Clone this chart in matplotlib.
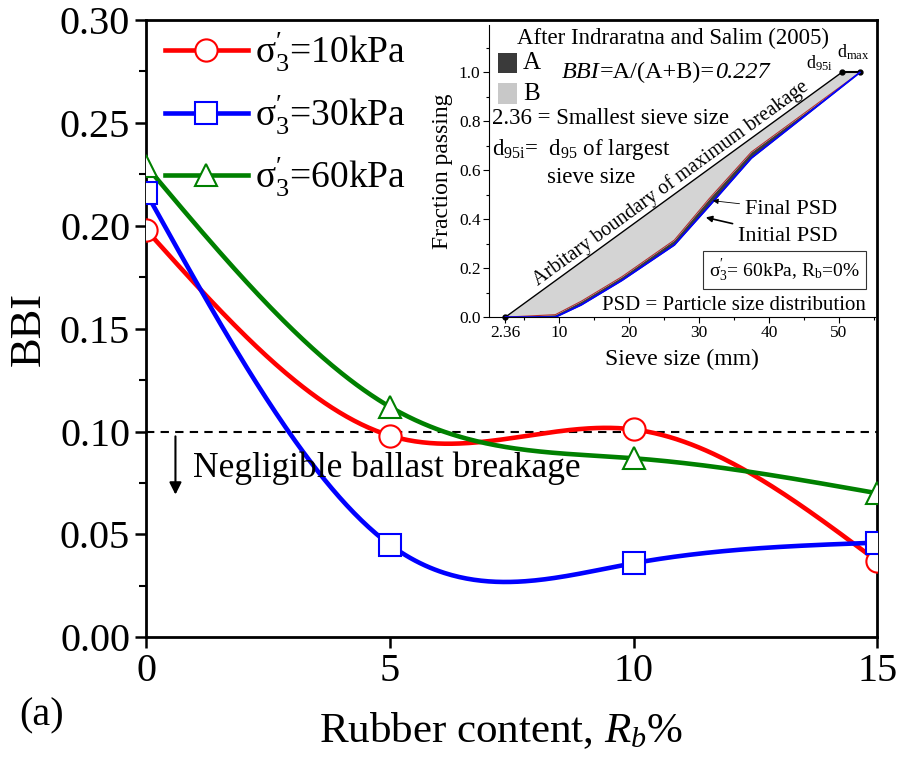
import numpy as np
import matplotlib
matplotlib.use("Agg")
import matplotlib.pyplot as plt
from matplotlib.patches import Rectangle

plt.rcParams["font.family"] = ["Liberation Serif", "DejaVu Serif"]
plt.rcParams["mathtext.fontset"] = "custom"
plt.rcParams["mathtext.rm"] = "Liberation Serif"
plt.rcParams["mathtext.it"] = "Liberation Serif:italic"
plt.rcParams["mathtext.bf"] = "Liberation Serif:bold"

# BBI vs rubber content
rubber = [0, 5, 10, 15]
bbi_10 = [0.198, 0.098, 0.101, 0.037]
bbi_30 = [0.216, 0.045, 0.036, 0.046]
bbi_60 = [0.229, 0.112, 0.087, 0.070]
labels = [r"$\mathrm{\sigma^{\prime}_{3}}$=10kPa",
          r"$\mathrm{\sigma^{\prime}_{3}}$=30kPa",
          r"$\mathrm{\sigma^{\prime}_{3}}$=60kPa"]

# PSD curves for the inset (sieve size mm, fraction passing)
sieve = [2.36, 9.5, 13.2, 19.0, 26.5, 31.5, 37.5, 53.0]
psd_initial = [0.0, 0.0, 0.05, 0.15, 0.295, 0.455, 0.65, 1.0]
psd_final = [0.0, 0.01, 0.065, 0.165, 0.315, 0.485, 0.675, 1.0]
boundary_x = [2.36, 50.4, 53.0]
boundary_y = [0.0, 1.0, 1.0]
bbi_value = 0.227


def natural_spline(x, y, n=300):
    x = np.asarray(x, float)
    y = np.asarray(y, float)
    k = len(x)
    h = np.diff(x)
    A = np.zeros((k, k))
    r = np.zeros(k)
    A[0, 0] = A[-1, -1] = 1
    for i in range(1, k - 1):
        A[i, i - 1] = h[i - 1]
        A[i, i] = 2 * (h[i - 1] + h[i])
        A[i, i + 1] = h[i]
        r[i] = 6 * ((y[i + 1] - y[i]) / h[i] - (y[i] - y[i - 1]) / h[i - 1])
    m = np.linalg.solve(A, r)
    xs = np.linspace(x[0], x[-1], n)
    idx = np.clip(np.searchsorted(x, xs) - 1, 0, k - 2)
    t0 = x[idx]
    t1 = x[idx + 1]
    hh = h[idx]
    ys = (m[idx] * (t1 - xs) ** 3 / (6 * hh) + m[idx + 1] * (xs - t0) ** 3 / (6 * hh)
          + (y[idx] / hh - m[idx] * hh / 6) * (t1 - xs)
          + (y[idx + 1] / hh - m[idx + 1] * hh / 6) * (xs - t0))
    return xs, ys


fig = plt.figure(figsize=(8.97, 7.66), dpi=100)
ax = fig.add_axes([0.163, 0.168, 0.815, 0.806])

styles = [("#ff0000", "o"), ("#0000ff", "s"), ("#008000", "^")]
for vals, (c, m), lab in zip([bbi_10, bbi_30, bbi_60], styles, labels):
    xs, ys = natural_spline(rubber, vals)
    ax.plot(xs, ys, color=c, lw=3.3, zorder=2)
    ax.plot(rubber, vals, ls="none", marker=m, ms=16, mfc="white", mec=c, mew=1.5, zorder=3)
    ax.plot([], [], color=c, lw=3.3, marker=m, ms=16, mfc="white", mec=c, mew=1.5, label=lab)

ax.axhline(0.10, color="black", ls=(0, (4, 3)), lw=1.5, zorder=1)
ax.annotate("", xy=(0.6, 0.068), xytext=(0.6, 0.099),
            arrowprops=dict(arrowstyle="-|>", color="black", lw=1.5, mutation_scale=18))
ax.text(0.96, 0.082, "Negligible ballast breakage", fontsize=25.5, va="center", ha="left")

ax.set_xlim(0, 15)
ax.set_ylim(0, 0.30)
ax.set_xticks([0, 5, 10, 15])
ax.set_yticks(np.arange(0, 0.301, 0.05))
ax.set_yticks(np.arange(0.025, 0.3, 0.05), minor=True)
ax.yaxis.set_major_formatter(matplotlib.ticker.FormatStrFormatter("%.2f"))
ax.tick_params(labelsize=29, width=1.8, length=8, direction="out")
ax.tick_params(which="minor", width=1.5, length=5)
for s in ax.spines.values():
    s.set_linewidth(2)
ax.set_xlabel(r"Rubber content, $R_b\%$", fontsize=31, labelpad=18)
ax.xaxis.set_label_coords(0.485, -0.118)
ax.set_ylabel("BBI", fontsize=32, labelpad=8)
ax.legend(loc="upper left", bbox_to_anchor=(-0.01, 1.025), frameon=False, fontsize=27,
          handlelength=2.2, handletextpad=0.2, labelspacing=0.5, borderaxespad=0.3)
fig.text(0.022, 0.066, "(a)", fontsize=29, va="center")

# inset: definition of BBI
ins = fig.add_axes([0.545, 0.586, 0.430, 0.382])
ins.set_facecolor("white")
ins.fill(boundary_x + sieve[::-1], boundary_y + psd_final[::-1], color="#d4d4d4", lw=0)
ins.fill_between(sieve, psd_initial, psd_final, color="#3a3a3a", lw=0)
ins.plot(boundary_x[:2], boundary_y[:2], color="black", lw=1)
ins.plot(boundary_x[1:], boundary_y[1:], color="black", lw=1.5)
ins.plot(boundary_x, boundary_y, ls="none", marker="o", ms=3.5, color="black", clip_on=False)
ins.plot(sieve, psd_final, color="#b03030", lw=0.8)
ins.plot([boundary_x[0]] + sieve[1:], psd_initial, color="#0000ff", lw=1.3)
ins.set_xlim(0, 55.1)
ins.set_ylim(0, 1.196)
ins.set_xticks([2.36, 10, 20, 30, 40, 50])
ins.set_xticklabels(["2.36", "10", "20", "30", "40", "50"])
ins.set_xticks([5, 15, 25, 35, 45, 55], minor=True)
ins.set_yticks([0, 0.2, 0.4, 0.6, 0.8, 1.0])
ins.set_yticks([0.1, 0.3, 0.5, 0.7, 0.9, 1.1], minor=True)
ins.yaxis.set_major_formatter(matplotlib.ticker.FormatStrFormatter("%.1f"))
ins.tick_params(labelsize=12.5, length=4, width=0.8, pad=2)
ins.tick_params(which="minor", length=2.5, width=0.8)
ins.spines["top"].set_visible(False)
ins.spines["right"].set_visible(False)
ins.set_xlabel("Sieve size (mm)", fontsize=17, labelpad=5)
ins.set_ylabel("Fraction passing", fontsize=17, labelpad=4)

ins.text(0.477, 0.952, "After Indraratna and Salim (2005)", transform=ins.transAxes,
         fontsize=16.5, ha="center", va="center")
ins.add_patch(Rectangle((0.023, 0.833), 0.05, 0.071, transform=ins.transAxes,
                        color="#3a3a3a", lw=0))
ins.add_patch(Rectangle((0.023, 0.730), 0.05, 0.071, transform=ins.transAxes,
                        color="#c8c8c8", lw=0))
ins.text(0.088, 0.867, "A", transform=ins.transAxes, fontsize=18, va="center")
ins.text(0.088, 0.762, "B", transform=ins.transAxes, fontsize=18, va="center")

# BBI = A/(A+B) = value, with the name and the value in italics
t1 = ins.text(0.19, 0.836, "BBI", transform=ins.transAxes, fontsize=17.5,
              va="center", style="italic")
t2 = ins.annotate("=A/(A+B)=", xy=(1, 0.5), xycoords=t1, va="center", ha="left",
                  fontsize=17.5)
ins.annotate(f"{bbi_value:.3f}", xy=(1, 0.5), xycoords=t2, va="center", ha="left",
             fontsize=17.5, style="italic")

ins.text(0.822, 0.868, r"d$_{\mathrm{95i}}$", transform=ins.transAxes, fontsize=13, va="center")
ins.text(0.902, 0.905, r"d$_{\mathrm{max}}$", transform=ins.transAxes, fontsize=13, va="center")
ins.text(0.008, 0.679, "2.36 = Smallest sieve size", transform=ins.transAxes,
         fontsize=16.5, va="center")
ins.text(0.008, 0.572, r"d$_{\mathrm{95i}}$=  d$_{95}$ of largest", transform=ins.transAxes,
         fontsize=16.5, va="center")
ins.text(0.150, 0.478, "sieve size", transform=ins.transAxes, fontsize=16.5, va="center")
ins.text(26.0, 0.548, "Arbitary boundary of maximum breakage", fontsize=14.5,
         rotation=36, ha="center", va="center", rotation_mode="anchor")
ins.annotate("Final PSD", xy=(31.6, 0.477), xytext=(36.6, 0.44), fontsize=16,
             va="center", ha="left",
             arrowprops=dict(arrowstyle="-|>", color="black", lw=0.6, mutation_scale=8))
ins.annotate("Initial PSD", xy=(30.6, 0.41), xytext=(35.6, 0.33), fontsize=16,
             va="center", ha="left",
             arrowprops=dict(arrowstyle="-|>", color="black", lw=1.2, mutation_scale=9))
ins.text(0.767, 0.160, r"$\mathrm{\sigma^{\prime}_{3}}$= 60kPa, R$_\mathrm{b}$=0%",
         transform=ins.transAxes, fontsize=14, ha="center", va="center",
         bbox=dict(boxstyle="square,pad=0.3", fc="white", ec="#333333", lw=0.8))
ins.text(0.293, 0.041, "PSD = Particle size distribution", transform=ins.transAxes,
         fontsize=15, va="center")

fig.savefig("out.png", dpi=100)
